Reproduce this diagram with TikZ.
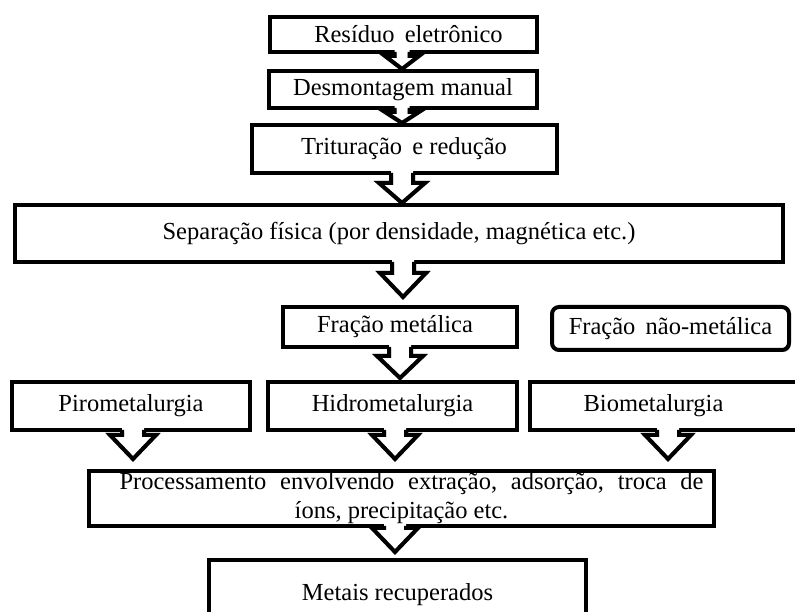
\documentclass[tikz,border=0pt]{standalone}
\usepackage{fontspec}
\setmainfont{Liberation Serif}
\usetikzlibrary{shadows,calc}
\tikzset{
  box/.style={draw=black, line width=4pt, fill=white, inner sep=0pt,
    font=\fontsize{24.5}{30}\selectfont,
    drop shadow={shadow xshift=1.8pt, shadow yshift=-1.8pt, fill=black, opacity=0.35}},
  arrline/.style={draw=black, line width=4pt, line join=miter},
  arrshadow/.style={draw=black, opacity=0.3, line width=4pt, line join=miter}
}
% \barrow[gap]{src}{tgt}{x}{shaft half}{head half}{head length}
\newcommand{\barrow}[7][0]{%
  \path (#2.south -| #4,0) coordinate (ta);
  \path (ta |- #3.north) coordinate (tq);
  \path ([yshift=#1pt]tq) coordinate (tb);
  \fill[white] ([xshift=-#5pt,yshift=4.2pt]ta) -- ([xshift=-#5pt,yshift=#7pt]tb)
    -- ([xshift=-#6pt,yshift=#7pt]tb) -- (tb) -- ([xshift=#6pt,yshift=#7pt]tb)
    -- ([xshift=#5pt,yshift=#7pt]tb) -- ([xshift=#5pt,yshift=4.2pt]ta) -- cycle;
  \draw[arrshadow, shift={(1.8pt,-1.8pt)}] ([xshift=-#5pt,yshift=0pt]ta) -- ([xshift=-#5pt,yshift=#7pt]tb)
    -- ([xshift=-#6pt,yshift=#7pt]tb) -- (tb) -- ([xshift=#6pt,yshift=#7pt]tb)
    -- ([xshift=#5pt,yshift=#7pt]tb) -- ([xshift=#5pt,yshift=0pt]ta);
  \draw[arrline] ([xshift=-#5pt,yshift=2pt]ta) -- ([xshift=-#5pt,yshift=#7pt]tb)
    -- ([xshift=-#6pt,yshift=#7pt]tb) -- (tb) -- ([xshift=#6pt,yshift=#7pt]tb)
    -- ([xshift=#5pt,yshift=#7pt]tb) -- ([xshift=#5pt,yshift=2pt]ta);
}
\begin{document}
\begin{tikzpicture}[x=1pt,y=1pt]
\useasboundingbox (0,0) rectangle (795,612);
\clip (0,0) rectangle (795,612);
\fill[white] (0,0) rectangle (795,612);
% boxes (y = 612 - ypx)
\node[box, minimum width=267pt, minimum height=35pt] (b1) at (403.5,577.5) {\hspace*{10pt}Resíduo\, eletrônico};
\node[box, minimum width=268pt, minimum height=37pt] (b2) at (403,522.5) {Desmontagem manual};
\node[box, minimum width=305pt, minimum height=48pt] (b3) at (404,463) {Trituração\, e redução};
\node[box, minimum width=768pt, minimum height=57pt] (b4) at (399,378.5) {Separação física (por densidade, magnética etc.)};
\node[box, minimum width=234pt, minimum height=40pt] (fm) at (400,285) {\hspace*{-10pt}Fração metálica};
\node[box, rounded corners=7pt, minimum width=237pt, minimum height=43pt] (fnm) at (670.5,283.5) {Fração\, não-metálica};
\node[box, minimum width=238pt, minimum height=48pt] (piro) at (131,206) {Pirometalurgia};
\node[box, minimum width=249pt, minimum height=48pt] (hidro) at (392.5,206) {Hidrometalurgia};
\node[box, minimum width=273pt, minimum height=48pt] (bio) at (666.5,206) {Biometalurgia\hspace*{26pt}};
\node[box, minimum width=625pt, minimum height=55pt, align=center, font=\fontsize{24.5}{29}\selectfont] (proc) at (401.5,113.5)
  {\hspace*{20pt}\makebox[584pt][s]{Processamento\ envolvendo\ extração,\ adsorção,\ troca\ de}\\íons, precipitação etc.};
\node[box, minimum width=377pt, minimum height=70pt] (met) at (397.5,17) {\raisebox{4pt}{Metais recuperados}};
% arrows
\barrow{b1}{b2}{402}{7.5}{17}{13}
\barrow{b2}{b3}{402}{7.5}{17}{11}
\barrow{b3}{b4}{402}{11}{23}{20}
\barrow[8]{b4}{fm}{403}{11}{23}{24}
\barrow[2]{fm}{hidro}{400}{11}{23}{22}
\barrow[10]{piro}{proc}{133}{11}{23}{24}
\barrow[10]{hidro}{proc}{395}{11}{23}{24}
\barrow[10]{bio}{proc}{668}{11}{23}{24}
\barrow[6]{proc}{met}{395}{11}{23}{24}
\end{tikzpicture}
\end{document}
